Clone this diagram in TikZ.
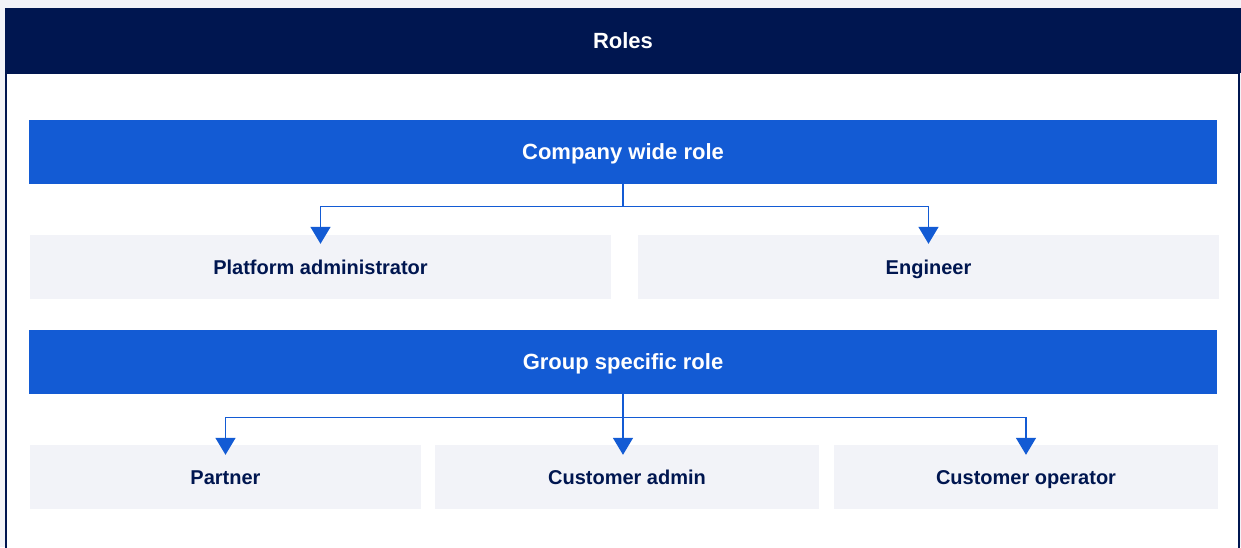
\documentclass[tikz,border=0pt]{standalone}
\usepackage{fontspec}
\setmainfont{Liberation Sans}
\usetikzlibrary{positioning, arrows.meta}
\definecolor{navy}{RGB}{0,22,80}
\definecolor{roleblue}{RGB}{19,91,212}
\definecolor{paleg}{RGB}{242,243,248}

\begin{document}
\begin{tikzpicture}[x=1pt, y=-1pt,
            hd/.style={fill=roleblue, text=white, inner sep=0pt,
              minimum width=1188pt, minimum height=64pt,
              text height=16pt, text depth=0pt,
              font=\fontsize{22}{26}\selectfont\bfseries},
            rl/.style={fill=paleg, text=navy, inner sep=0pt,
              minimum height=64pt, text height=14.4pt, text depth=0pt,
              font=\fontsize{20}{24}\selectfont\bfseries},
            ->/.style={-{Triangle[width=20pt, length=17pt]}, roleblue, line width=1.5pt}]
          \useasboundingbox (0,0) rectangle (1241,547);
          \fill[paleg] (0,0) rectangle (1241,547);
          % white panel under the title bar
          \fill[white] (6,73) rectangle (1239,547);
          \draw[navy, line width=1.5pt] (6,560) -- (6,73) -- (1239,73) -- (1239,560);
          \node[fill=navy, text=white, inner sep=0pt, minimum width=1236pt,
            minimum height=65pt, text height=16pt, text depth=0pt,
            font=\fontsize{22}{26}\selectfont\bfseries]
            (roles) at (623,40.5) {Roles};

          \node[hd] (cw) at (623,151.5) {Company wide role};
          \node[rl, minimum width=581pt] (padmin) at (320.5,267) {Platform administrator};
          \node[rl, minimum width=581pt] (eng) at (928.5,267) {Engineer};

          \node[hd] (gs) at (623,361.5) {Group specific role};
          \node[rl, minimum width=391pt] (partner) at (225.5,477) {Partner};
          \node[rl, minimum width=384pt] (cadmin) at (627,477) {Customer admin};
          \node[rl, minimum width=384pt] (coper) at (1026,477) {Customer operator};

          \coordinate (cj) at ([yshift=-23pt]cw.south);
          \coordinate (gj) at ([yshift=-24pt]gs.south);
          \coordinate (ctip) at (gs.south |- cadmin.north);

          \draw [->] (cw.south) -- (cj) -| ([yshift=-9pt]padmin.north);
          \draw [->] (cj) -| ([yshift=-9pt]eng.north);
          \draw [->] (gs.south) -- (gj) -| ([yshift=-10pt]partner.north);
          \draw [->] (gj) -- ([yshift=-10pt]ctip);
          \draw [->] (gj) -| ([yshift=-10pt]coper.north);
        \end{tikzpicture}
\end{document}
